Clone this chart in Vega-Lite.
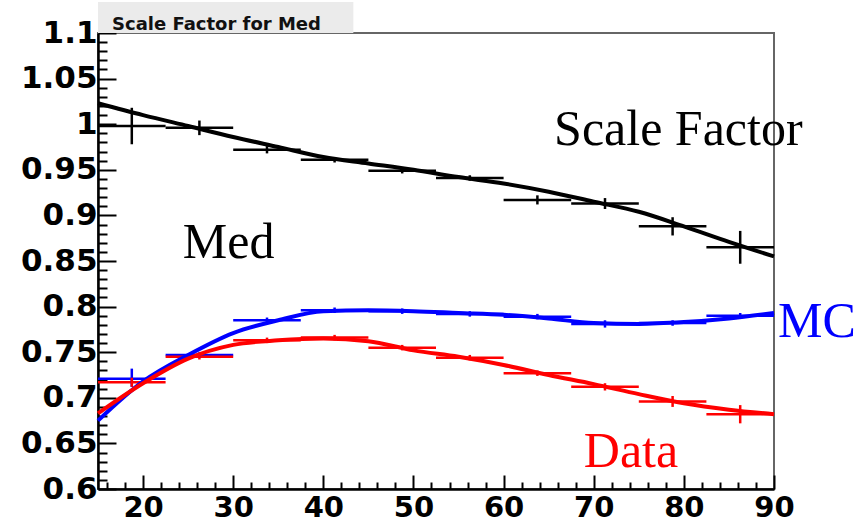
{
  "$schema": "https://vega.github.io/schema/vega-lite/v6.json",
  "width": 676,
  "height": 456,
  "autosize": "none",
  "padding": {"left": 98, "top": 33, "right": 85, "bottom": 34},
  "background": "white",
  "config": {"view": {"stroke": "#666666", "strokeWidth": 2}},
  "title": {"text": "Scale Factor for Med", "anchor": "start", "frame": "group", "font": "DejaVu Sans", "fontWeight": "bold", "fontSize": 18, "color": "#111111", "dx": 14, "offset": -50, "baseline": "bottom"},
  "resolve": {"axis": {"x": "independent", "y": "independent"}},
  "datasets": {
    "bins": [
      {"series": "Scale Factor", "x": 18.75, "xlo": 15, "xhi": 22.5, "y": 0.998, "ylo": 0.978, "yhi": 1.018},
      {"series": "Scale Factor", "x": 26.25, "xlo": 22.5, "xhi": 30, "y": 0.996, "ylo": 0.988, "yhi": 1.004},
      {"series": "Scale Factor", "x": 33.75, "xlo": 30, "xhi": 37.5, "y": 0.972, "ylo": 0.968, "yhi": 0.976},
      {"series": "Scale Factor", "x": 41.25, "xlo": 37.5, "xhi": 45, "y": 0.961, "ylo": 0.958, "yhi": 0.964},
      {"series": "Scale Factor", "x": 48.75, "xlo": 45, "xhi": 52.5, "y": 0.949, "ylo": 0.946, "yhi": 0.952},
      {"series": "Scale Factor", "x": 56.25, "xlo": 52.5, "xhi": 60, "y": 0.941, "ylo": 0.938, "yhi": 0.944},
      {"series": "Scale Factor", "x": 63.75, "xlo": 60, "xhi": 67.5, "y": 0.917, "ylo": 0.912, "yhi": 0.922},
      {"series": "Scale Factor", "x": 71.25, "xlo": 67.5, "xhi": 75, "y": 0.913, "ylo": 0.907, "yhi": 0.919},
      {"series": "Scale Factor", "x": 78.75, "xlo": 75, "xhi": 82.5, "y": 0.888, "ylo": 0.878, "yhi": 0.898},
      {"series": "Scale Factor", "x": 86.25, "xlo": 82.5, "xhi": 90, "y": 0.865, "ylo": 0.847, "yhi": 0.883},
      {"series": "MC", "x": 18.75, "xlo": 15, "xhi": 22.5, "y": 0.721, "ylo": 0.712, "yhi": 0.732},
      {"series": "MC", "x": 26.25, "xlo": 22.5, "xhi": 30, "y": 0.747, "ylo": 0.744, "yhi": 0.75},
      {"series": "MC", "x": 33.75, "xlo": 30, "xhi": 37.5, "y": 0.785, "ylo": 0.782, "yhi": 0.788},
      {"series": "MC", "x": 41.25, "xlo": 37.5, "xhi": 45, "y": 0.796, "ylo": 0.793, "yhi": 0.799},
      {"series": "MC", "x": 48.75, "xlo": 45, "xhi": 52.5, "y": 0.795, "ylo": 0.792, "yhi": 0.798},
      {"series": "MC", "x": 56.25, "xlo": 52.5, "xhi": 60, "y": 0.792, "ylo": 0.789, "yhi": 0.795},
      {"series": "MC", "x": 63.75, "xlo": 60, "xhi": 67.5, "y": 0.789, "ylo": 0.786, "yhi": 0.792},
      {"series": "MC", "x": 71.25, "xlo": 67.5, "xhi": 75, "y": 0.781, "ylo": 0.777, "yhi": 0.785},
      {"series": "MC", "x": 78.75, "xlo": 75, "xhi": 82.5, "y": 0.782, "ylo": 0.779, "yhi": 0.785},
      {"series": "MC", "x": 86.25, "xlo": 82.5, "xhi": 90, "y": 0.79, "ylo": 0.787, "yhi": 0.793},
      {"series": "Data", "x": 18.75, "xlo": 15, "xhi": 22.5, "y": 0.717, "ylo": 0.712, "yhi": 0.722},
      {"series": "Data", "x": 26.25, "xlo": 22.5, "xhi": 30, "y": 0.745, "ylo": 0.742, "yhi": 0.748},
      {"series": "Data", "x": 33.75, "xlo": 30, "xhi": 37.5, "y": 0.763, "ylo": 0.76, "yhi": 0.766},
      {"series": "Data", "x": 41.25, "xlo": 37.5, "xhi": 45, "y": 0.766, "ylo": 0.763, "yhi": 0.769},
      {"series": "Data", "x": 48.75, "xlo": 45, "xhi": 52.5, "y": 0.755, "ylo": 0.752, "yhi": 0.758},
      {"series": "Data", "x": 56.25, "xlo": 52.5, "xhi": 60, "y": 0.744, "ylo": 0.741, "yhi": 0.747},
      {"series": "Data", "x": 63.75, "xlo": 60, "xhi": 67.5, "y": 0.727, "ylo": 0.724, "yhi": 0.73},
      {"series": "Data", "x": 71.25, "xlo": 67.5, "xhi": 75, "y": 0.712, "ylo": 0.708, "yhi": 0.716},
      {"series": "Data", "x": 78.75, "xlo": 75, "xhi": 82.5, "y": 0.696, "ylo": 0.69, "yhi": 0.702},
      {"series": "Data", "x": 86.25, "xlo": 82.5, "xhi": 90, "y": 0.682, "ylo": 0.672, "yhi": 0.692}
    ],
    "fits": [
      {"series": "Scale Factor", "x": 15, "y": 1.023},
      {"series": "Scale Factor", "x": 20, "y": 1.01},
      {"series": "Scale Factor", "x": 25, "y": 0.998},
      {"series": "Scale Factor", "x": 30, "y": 0.986},
      {"series": "Scale Factor", "x": 35, "y": 0.975},
      {"series": "Scale Factor", "x": 40, "y": 0.964},
      {"series": "Scale Factor", "x": 45, "y": 0.957},
      {"series": "Scale Factor", "x": 50, "y": 0.95},
      {"series": "Scale Factor", "x": 55, "y": 0.942},
      {"series": "Scale Factor", "x": 60, "y": 0.935},
      {"series": "Scale Factor", "x": 65, "y": 0.926},
      {"series": "Scale Factor", "x": 70, "y": 0.915},
      {"series": "Scale Factor", "x": 75, "y": 0.904},
      {"series": "Scale Factor", "x": 80, "y": 0.888},
      {"series": "Scale Factor", "x": 85, "y": 0.871},
      {"series": "Scale Factor", "x": 90, "y": 0.855},
      {"series": "MC", "x": 15, "y": 0.675},
      {"series": "MC", "x": 20, "y": 0.718},
      {"series": "MC", "x": 25, "y": 0.747},
      {"series": "MC", "x": 30, "y": 0.771},
      {"series": "MC", "x": 35, "y": 0.785},
      {"series": "MC", "x": 40, "y": 0.795},
      {"series": "MC", "x": 45, "y": 0.796},
      {"series": "MC", "x": 50, "y": 0.795},
      {"series": "MC", "x": 55, "y": 0.793},
      {"series": "MC", "x": 60, "y": 0.791},
      {"series": "MC", "x": 65, "y": 0.787},
      {"series": "MC", "x": 70, "y": 0.782},
      {"series": "MC", "x": 75, "y": 0.781},
      {"series": "MC", "x": 80, "y": 0.783},
      {"series": "MC", "x": 85, "y": 0.787},
      {"series": "MC", "x": 90, "y": 0.793},
      {"series": "Data", "x": 15, "y": 0.683},
      {"series": "Data", "x": 20, "y": 0.716},
      {"series": "Data", "x": 25, "y": 0.743},
      {"series": "Data", "x": 30, "y": 0.758},
      {"series": "Data", "x": 35, "y": 0.763},
      {"series": "Data", "x": 40, "y": 0.765},
      {"series": "Data", "x": 45, "y": 0.762},
      {"series": "Data", "x": 50, "y": 0.752},
      {"series": "Data", "x": 55, "y": 0.745},
      {"series": "Data", "x": 60, "y": 0.736},
      {"series": "Data", "x": 65, "y": 0.725},
      {"series": "Data", "x": 70, "y": 0.715},
      {"series": "Data", "x": 75, "y": 0.704},
      {"series": "Data", "x": 80, "y": 0.694},
      {"series": "Data", "x": 85, "y": 0.687},
      {"series": "Data", "x": 90, "y": 0.682}
    ],
    "notes": [
      {"label": "Scale Factor", "series": "Scale Factor", "x": 65.6, "y": 0.977},
      {"label": "Med", "series": "Med", "x": 24.4, "y": 0.853},
      {"label": "MC", "series": "MC", "x": 90.44, "y": 0.767},
      {"label": "Data", "series": "Data", "x": 68.9, "y": 0.624}
    ]
  },
  "layer": [
    {
      "data": {"name": "bins"},
      "mark": {"type": "rule", "strokeWidth": 2.5},
      "encoding": {
        "x": {"field": "xlo", "type": "quantitative",
          "scale": {"domain": [15, 90], "nice": false, "zero": false},
          "axis": {
            "title": null,
            "values": [16,18,20,22,24,26,28,30,32,34,36,38,40,42,44,46,48,50,52,54,56,58,60,62,64,66,68,70,72,74,76,78,80,82,84,86,88,90],
            "labelExpr": "datum.value % 10 == 0 ? format(datum.value, 'd') : ''",
            "tickSize": {"condition": {"test": "datum.value % 10 == 0", "value": -14}, "value": -7},
            "tickWidth": 2, "tickColor": "black",
            "domainColor": "black", "domainWidth": 2.5,
            "grid": false,
            "labelFont": "DejaVu Sans", "labelFontWeight": "bold", "labelFontSize": 29, "labelColor": "black",
            "labelPadding": 18, "labelOverlap": false, "labelFlush": false, "labelBound": false
          }},
        "x2": {"field": "xhi"},
        "y": {"field": "y", "type": "quantitative",
          "scale": {"domain": [0.6, 1.1], "nice": false, "zero": false},
          "axis": {
            "title": null,
            "values": [0.6,0.61,0.62,0.63,0.64,0.65,0.66,0.67,0.68,0.69,0.7,0.71,0.72,0.73,0.74,0.75,0.76,0.77,0.78,0.79,0.8,0.81,0.82,0.83,0.84,0.85,0.86,0.87,0.88,0.89,0.9,0.91,0.92,0.93,0.94,0.95,0.96,0.97,0.98,0.99,1,1.01,1.02,1.03,1.04,1.05,1.06,1.07,1.08,1.09,1.1],
            "labelExpr": "abs(datum.value*20 - round(datum.value*20)) < 0.001 ? format(datum.value, '.2~f') : ''",
            "tickSize": {"condition": {"test": "abs(datum.value*20 - round(datum.value*20)) < 0.001", "value": -18}, "value": -9},
            "tickWidth": 2, "tickColor": "black",
            "domainColor": "black", "domainWidth": 2.5,
            "grid": false,
            "labelFont": "DejaVu Sans", "labelFontWeight": "bold", "labelFontSize": 31, "labelColor": "black",
            "labelPadding": 19, "labelOverlap": false, "labelFlush": false, "labelBound": false
          }},
        "color": {"field": "series", "type": "nominal",
          "scale": {"domain": ["Scale Factor", "MC", "Data", "Med"], "range": ["#000000", "#0000ff", "#ff0000", "#000000"]},
          "legend": null}
      }
    },
    {
      "data": {"values": [{"box": "title"}]},
      "mark": {"type": "rect", "fill": "#ebebeb", "clip": false},
      "encoding": {
        "x": {"datum": 15, "type": "quantitative", "axis": null},
        "x2": {"datum": 43.33},
        "y": {"datum": 1.1, "type": "quantitative", "axis": null},
        "y2": {"datum": 1.134}
      }
    },
    {
      "data": {"name": "bins"},
      "mark": {"type": "rule", "strokeWidth": 2.5},
      "encoding": {
        "x": {"field": "x", "type": "quantitative", "axis": null},
        "y": {"field": "ylo", "type": "quantitative", "axis": null},
        "y2": {"field": "yhi"},
        "color": {"field": "series", "type": "nominal", "legend": null}
      }
    },
    {
      "data": {"name": "fits"},
      "mark": {"type": "line", "strokeWidth": 4, "interpolate": "monotone"},
      "encoding": {
        "x": {"field": "x", "type": "quantitative", "axis": null},
        "y": {"field": "y", "type": "quantitative", "axis": null},
        "color": {"field": "series", "type": "nominal", "legend": null},
        "detail": {"field": "series"}
      }
    },
    {
      "data": {"name": "notes"},
      "mark": {"type": "text", "font": "Liberation Serif", "fontSize": 50, "align": "left", "baseline": "alphabetic", "clip": false},
      "encoding": {
        "x": {"field": "x", "type": "quantitative", "axis": null},
        "y": {"field": "y", "type": "quantitative", "axis": null},
        "text": {"field": "label"},
        "color": {"field": "series", "type": "nominal", "legend": null}
      }
    }
  ]
}
